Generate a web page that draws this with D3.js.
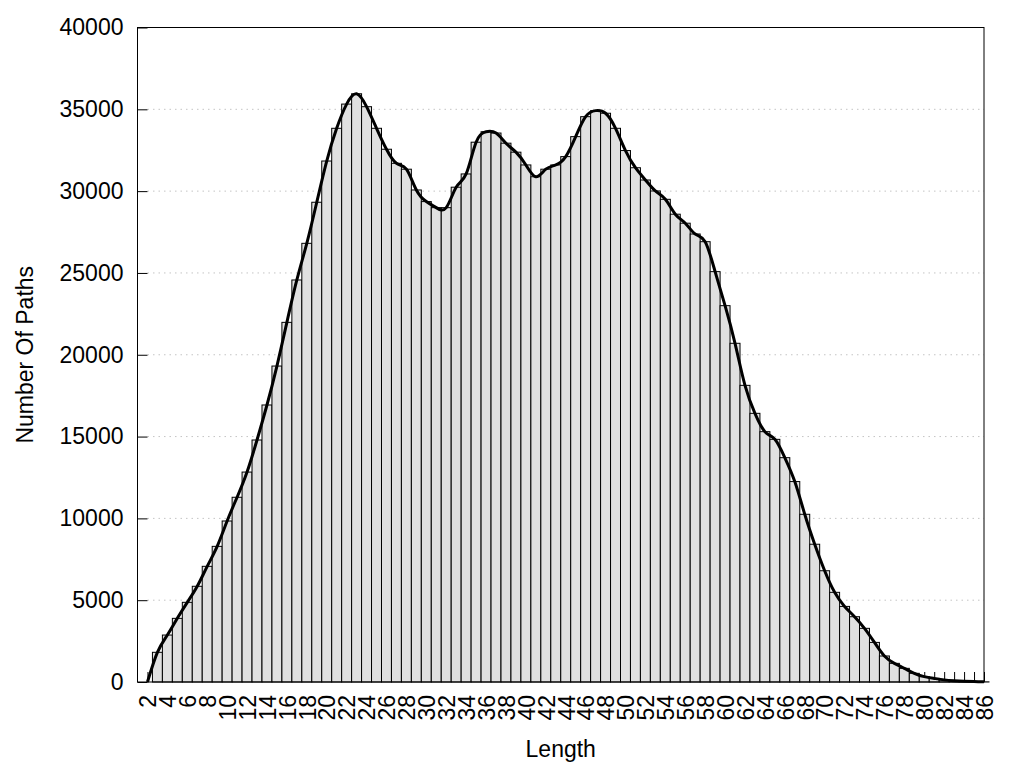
<!DOCTYPE html>
<html>

<head>
    <title>Number Of Paths by Length</title>
    <script src="https://d3js.org/d3.v7.min.js"></script>
    <style>
        body { margin: 0; background: #fff; }
        text { font-family: "Liberation Sans", Arial, sans-serif; }
    </style>
</head>

<body>
    <script type="text/javascript">

        // path lengths (one bar each)
        var lengths = [2, 3, 4, 5, 6, 7, 8, 9, 10, 11, 12, 13, 14, 15, 16, 17, 18, 19, 20,
            21, 22, 23, 24, 25, 26, 27, 28, 29, 30, 31, 32, 33, 34, 35, 36, 37, 38, 39, 40,
            41, 42, 43, 44, 45, 46, 47, 48, 49, 50, 51, 52, 53, 54, 55, 56, 57, 58, 59, 60,
            61, 62, 63, 64, 65, 66, 67, 68, 69, 70, 71, 72, 73, 74, 75, 76, 77, 78, 79, 80,
            81, 82, 83, 84, 85, 86];

        // number of paths for each length
        var pathCounts = [0, 1815, 2870, 3890, 4870, 5850, 7070, 8290, 9840, 11290, 12830,
            14790, 16930, 19310, 21980, 24570, 26810, 29320, 31840, 33840, 35320,
            35950, 35160, 33840, 32560, 31700, 31340, 30070, 29360, 28990, 28990,
            30240, 31050, 32990, 33630, 33550, 32930, 32380, 31600, 30880, 31340,
            31600, 32110, 33330, 34550, 34920, 34760, 33840, 32480, 31430, 30680,
            30010, 29500, 28590, 28040, 27380, 26910, 25080, 23000, 20700, 18130,
            16420, 15300, 14830, 13710, 12250, 10250, 8420, 6800, 5480, 4620,
            3990, 3280, 2420, 1590, 1140, 835, 530, 330, 220, 130,
            80, 50, 30, 10];

        // tick labels
        var xTickLabels = [2, 4, 6, 8, 10, 12, 14, 16, 18, 20, 22, 24, 26, 28, 30, 32, 34, 36, 38, 40,
            42, 44, 46, 48, 50, 52, 54, 56, 58, 60, 62, 64, 66, 68, 70, 72, 74, 76, 78, 80, 82, 84, 86];
        var yTickValues = [0, 5000, 10000, 15000, 20000, 25000, 30000, 35000, 40000];

        var data = lengths.map(function (d, i) { return { len: d, count: pathCounts[i] }; });

        //Set up SVG size and margin
        var margin = { top: 27.5, right: 40, bottom: 86, left: 137.5 },
            width = 984 - margin.left,
            height = 682 - margin.top;

        var xScale = d3.scaleLinear()
            .domain([1, 86])
            .range([0, width]);

        var yScale = d3.scaleLinear()
            .domain([0, 40000])
            .range([height, 0]);

        var svg = d3.select("body")
            .append("svg")
            .attr("width", 1024)
            .attr("height", 768)
            .append("g")
            .attr("transform", "translate(" + margin.left + "," + margin.top + ")");

        //dotted grid lines
        svg.append("g")
            .selectAll("line")
            .data(yTickValues.slice(1, -1))
            .enter()
            .append("line")
            .attr("x1", 10)
            .attr("x2", width)
            .attr("y1", function (d) { return yScale(d); })
            .attr("y2", function (d) { return yScale(d); })
            .attr("stroke", "#c4c4c4")
            .attr("stroke-width", 1)
            .attr("stroke-dasharray", "1.5,4");

        //Y axis, ticks pointing inward
        var yAxisG = svg.append("g")
            .call(d3.axisLeft(yScale)
                .tickValues(yTickValues)
                .tickSizeInner(-10)
                .tickSizeOuter(0)
                .tickPadding(14)
                .tickFormat(d3.format("d")));
        yAxisG.select(".domain").remove();
        yAxisG.selectAll("line").attr("stroke", "#000");
        yAxisG.selectAll("text")
            .style("font-size", "23px")
            .attr("fill", "#000");

        //X axis ticks at every length
        var xTickG = svg.append("g")
            .attr("transform", "translate(0," + height + ")")
            .call(d3.axisBottom(xScale)
                .tickValues(lengths)
                .tickSizeInner(-10)
                .tickSizeOuter(0)
                .tickFormat(""));
        xTickG.select(".domain").remove();
        xTickG.selectAll("line").attr("stroke", "#000");

        //X axis labels, rotated
        var xLabelG = svg.append("g")
            .attr("transform", "translate(0," + height + ")")
            .call(d3.axisBottom(xScale)
                .tickValues(xTickLabels)
                .tickSize(0)
                .tickFormat(d3.format("d")));
        xLabelG.select(".domain").remove();
        xLabelG.selectAll("text")
            .attr("transform", "rotate(-90)")
            .attr("x", -13)
            .attr("y", 0)
            .attr("dy", "0.36em")
            .style("text-anchor", "end")
            .style("font-size", "23px")
            .attr("fill", "#000");

        //bars
        svg.append("g")
            .selectAll("rect")
            .data(data)
            .enter()
            .append("rect")
            .attr("x", function (d) { return xScale(d.len - 0.5); })
            .attr("width", function (d) { return xScale(d.len + 0.5) - xScale(d.len - 0.5); })
            .attr("y", function (d) { return yScale(d.count); })
            .attr("height", function (d) { return height - yScale(d.count); })
            .attr("fill", "#e0e0e0")
            .attr("stroke", "#000")
            .attr("stroke-width", 1);

        //plot border
        svg.append("rect")
            .attr("x", 0)
            .attr("y", 0)
            .attr("width", width)
            .attr("height", height)
            .attr("fill", "none")
            .attr("stroke", "#000")
            .attr("stroke-width", 1);

        //smooth curve through the bar tops
        var line = d3.line()
            .x(function (d) { return xScale(d.len); })
            .y(function (d) { return yScale(d.count); })
            .curve(d3.curveNatural);

        svg.append("path")
            .attr("d", line(data))
            .attr("fill", "none")
            .attr("stroke", "#000")
            .attr("stroke-width", 3)
            .attr("stroke-linejoin", "round");

        //axis titles
        svg.append("text")
            .attr("x", width / 2)
            .attr("y", 757 - margin.top)
            .attr("text-anchor", "middle")
            .style("font-size", "23px")
            .text("Length");

        svg.append("text")
            .attr("transform", "rotate(-90)")
            .attr("x", -height / 2)
            .attr("y", 33 - margin.left)
            .attr("text-anchor", "middle")
            .style("font-size", "23px")
            .text("Number Of Paths");

    </script>
</body>

</html>
